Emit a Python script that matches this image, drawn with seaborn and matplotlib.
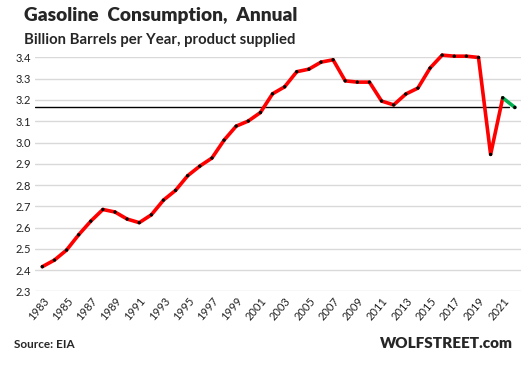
import pandas as pd
import matplotlib.pyplot as plt
import numpy as np
import seaborn as sns

# annual gasoline product supplied, billion barrels
years = list(range(1983, 2023))
consumption = [2.416, 2.447, 2.494, 2.566, 2.630, 2.685, 2.673, 2.640, 2.623, 2.660,
               2.729, 2.775, 2.844, 2.889, 2.927, 3.011, 3.077, 3.101, 3.141, 3.229,
               3.262, 3.333, 3.345, 3.378, 3.389, 3.290, 3.284, 3.284, 3.195, 3.177,
               3.228, 3.256, 3.350, 3.411, 3.406, 3.406, 3.400, 2.944, 3.210, 3.165]
yticks = [2.3, 2.4, 2.5, 2.6, 2.7, 2.8, 2.9, 3.0, 3.1, 3.2, 3.3, 3.4]
xticks = list(range(1983, 2022, 2))

df = pd.DataFrame({'year': years, 'value': consumption})
df_red = df[df['year'] <= 2021]
df_green = df[df['year'] >= 2021]

sns.set_style('white')
plt.rcParams['font.family'] = ['Lato', 'DejaVu Sans']

fig = plt.figure(figsize=(5.23, 3.66), dpi=100)
ax = fig.add_axes([0.067, 0.204, 0.929, 0.639])

for y in yticks:
    ax.axhline(y, color='#d9d9d9', lw=1, zorder=0)

# latest level as reference line
ax.axhline(consumption[-1], xmin=0, xmax=0.975, color='black', lw=1, zorder=1)

sns.lineplot(data=df_red, x='year', y='value', color='#ff0000', lw=2.6, ax=ax, zorder=2, clip_on=False)
sns.lineplot(data=df_green, x='year', y='value', color='#00b050', lw=2.6, ax=ax, zorder=2, clip_on=False)
sns.scatterplot(data=df, x='year', y='value', color='black', s=6, edgecolor='none', ax=ax, zorder=3,
                clip_on=False)

ax.set_xlim(1982.4, 2022.5)
ax.set_ylim(2.3, 3.4)
ax.set_yticks(yticks)
ax.set_yticklabels([f'{v:.1f}' for v in yticks], fontsize=8, color='#222222')
ax.set_xticks(xticks)
ax.set_xticklabels([str(v) for v in xticks], fontsize=8, rotation=50, ha='right',
                   rotation_mode='anchor', color='#222222')
ax.tick_params(axis='both', length=0, pad=3)
ax.set_xlabel('')
ax.set_ylabel('')
sns.despine(left=True, bottom=True)

fig.text(0.046, 0.943, 'Gasoline  Consumption,  Annual', fontsize=13.8, fontweight='heavy')
fig.text(0.046, 0.88, 'Billion Barrels per Year, product supplied', fontsize=10.7, fontweight='bold')
fig.text(0.027, 0.048, 'Source: EIA', fontsize=8.5, fontweight='bold')
fig.text(0.98, 0.048, 'WOLFSTREET.com', fontsize=11, fontweight='heavy', ha='right')

fig.savefig('out.png', dpi=100)
